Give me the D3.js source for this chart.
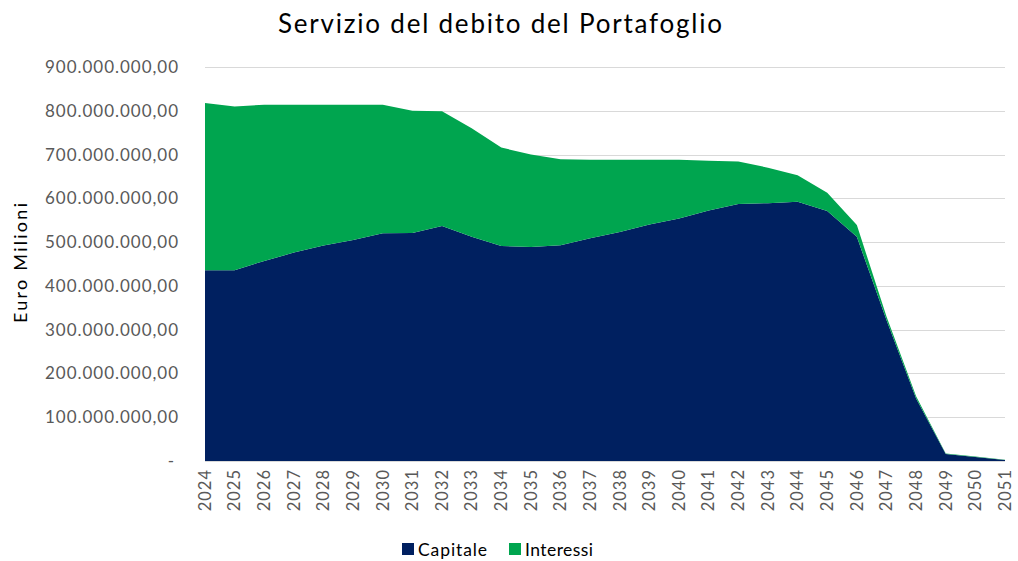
<!doctype html>
<html lang="it">
<head>
<meta charset="utf-8">
<title>Servizio del debito del Portafoglio</title>
<script src="https://cdn.jsdelivr.net/npm/d3@7"></script>
<style>
	body { margin: 0; background: #fff; }
	text { font-family: Lato, "Open Sans", sans-serif; }
	.grid line { stroke: #d9d9d9; stroke-width: 1; }
	.tick-y { fill: #595959; font-size: 17px; }
	.tick-x { fill: #595959; font-size: 16.5px; letter-spacing: 1px; }
</style>
</head>
<body>
<div id="viz"></div>
<script>
// anni e valori (euro)
var years = d3.range(2024, 2052).map(String);
var capitale = [436, 436, 457, 476, 492, 505, 520, 521, 537, 512, 491, 489, 493, 509, 523, 540, 554, 572, 587, 589, 592, 571, 512, 322, 143, 16, 9, 2].map(d => d * 1e6);
var interessi = [382, 374, 357, 338, 322, 309, 294, 279, 262, 248, 225, 211, 196, 179, 165, 148, 134, 114, 97, 81, 61, 42, 27, 8, 5, 1, 1, 1].map(d => d * 1e6);
var yTicks = [0, 100e6, 200e6, 300e6, 400e6, 500e6, 600e6, 700e6, 800e6, 900e6];
var seriesNames = ["Capitale", "Interessi"];
var colors = ["#002060", "#00a54f"];

(function(d3) {

	var w = 1018, h = 561;
	var margin = {top: 67, right: 13, bottom: 100, left: 205};

	var rows = years.map((y, i) => ({year: y, Capitale: capitale[i], Interessi: interessi[i]}));
	var stack = d3.stack().keys(seriesNames);
	var layers = stack(rows);

	var xScale = d3.scalePoint()
		.domain(years)
		.range([margin.left, w - margin.right]);

	var yScale = d3.scaleLinear()
		.domain([0, 900e6])
		.range([h - margin.bottom, margin.top]);

	var svg = d3.select("#viz")
		.append("svg")
		.attr("width", w)
		.attr("height", h);

	// griglia
	svg.append("g")
		.attr("class", "grid")
		.selectAll("line")
		.data(yTicks)
		.enter()
		.append("line")
		.attr("x1", margin.left)
		.attr("x2", w - margin.right)
		.attr("y1", d => Math.round(yScale(d)) + 0.5)
		.attr("y2", d => Math.round(yScale(d)) + 0.5);

	var area = d3.area()
		.x(d => xScale(d.data.year))
		.y0(d => yScale(d[0]))
		.y1(d => yScale(d[1]));

	svg.selectAll("path.layer")
		.data(layers)
		.enter()
		.append("path")
		.attr("class", "layer")
		.style("fill", (d, i) => colors[i])
		.attr("d", area);

	// etichette asse y (formato contabile italiano)
	var fmt = d => d === 0 ? "-" : d3.format(",.2f")(d).replace(/,/g, "#").replace(".", ",").replace(/#/g, ".");
	svg.append("g")
		.selectAll("text")
		.data(yTicks)
		.enter()
		.append("text")
		.attr("class", "tick-y")
		.attr("x", d => d === 0 ? 174 : 178)
		.attr("y", d => yScale(d))
		.attr("dy", "0.35em")
		.attr("text-anchor", "end")
		.attr("textLength", d => d === 0 ? null : 133)
		.attr("lengthAdjust", "spacing")
		.text(fmt);

	// etichette asse x
	svg.append("g")
		.selectAll("text")
		.data(years)
		.enter()
		.append("text")
		.attr("class", "tick-x")
		.attr("transform", d => "translate(" + xScale(d) + "," + 469 + ") rotate(-90)")
		.attr("dy", "0.35em")
		.attr("text-anchor", "end")
		.text(d => d);

	// titolo
	svg.append("text")
		.attr("x", 500)
		.attr("y", 33)
		.attr("text-anchor", "middle")
		.attr("textLength", 444)
		.attr("lengthAdjust", "spacing")
		.style("font-size", "26px")
		.style("fill", "#000")
		.text("Servizio del debito del Portafoglio");

	// titolo asse y
	svg.append("text")
		.attr("transform", "translate(27,263) rotate(-90)")
		.attr("text-anchor", "middle")
		.attr("textLength", 120)
		.attr("lengthAdjust", "spacing")
		.style("font-size", "18px")
		.style("fill", "#000")
		.text("Euro Milioni");

	// legenda
	var legendX = [402, 509];
	var legendLen = [69, 68];
	var legend = svg.append("g")
		.selectAll("g")
		.data(seriesNames)
		.enter()
		.append("g")
		.attr("transform", (d, i) => "translate(" + legendX[i] + ",543)");

	legend.append("rect")
		.attr("width", 12)
		.attr("height", 12)
		.style("fill", (d, i) => colors[i]);

	legend.append("text")
		.attr("x", 16)
		.attr("y", 13)
		.attr("textLength", (d, i) => legendLen[i])
		.attr("lengthAdjust", "spacing")
		.style("font-size", "17.5px")
		.style("fill", "#000")
		.text(d => d);

})(d3);
</script>
</body>
</html>
